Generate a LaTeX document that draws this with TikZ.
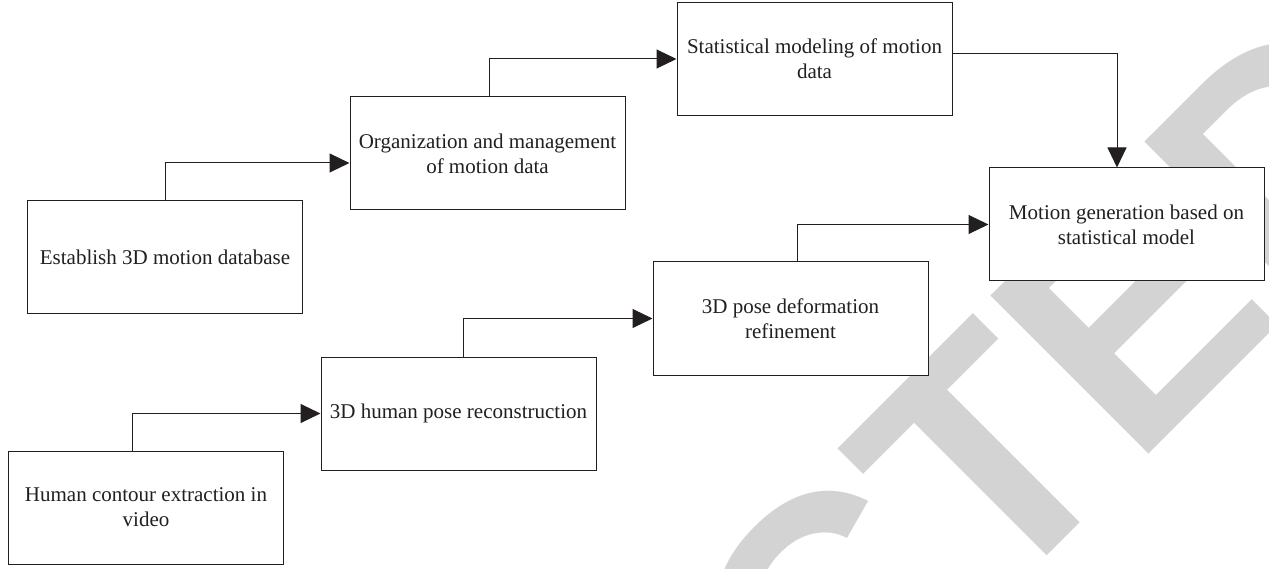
\documentclass[tikz,border=0pt]{standalone}
\usepackage{fontspec}
\setmainfont{Liberation Serif}
\newfontfamily\wmfont{Liberation Sans}
\usetikzlibrary{arrows.meta,calc}
\definecolor{ink}{HTML}{231F20}
\definecolor{wm}{HTML}{D3D3D3}
\begin{document}
\begin{tikzpicture}[x=1pt,y=-1pt,
  stepbox/.style={draw=ink,line width=1pt,fill=white,minimum width=275pt,
    minimum height=113pt,inner sep=2pt,align=center,text=ink,
    font=\fontsize{21}{25}\selectfont},
  flow/.style={draw=ink,line width=1pt,-{Triangle[length=20pt,width=19pt]}}]
\useasboundingbox (0,0) rectangle (1269,569);
% faint stamp lettering behind the chart
\begin{scope}
  \clip (0,0) rectangle (1269,569);
  \node[rotate=45,anchor=base west,inner sep=0pt,text=wm,
    font=\wmfont\bfseries\fontsize{325}{325}\selectfont] (stamp) at (36,1567) {RETRACTED};
\end{scope}
% process steps
\node[stepbox] (est)  at (165,257)    {Establish 3D motion database};
\node[stepbox] (org)  at (487.5,153.5){Organization and management\\of motion data};
\node[stepbox] (stat) at (814.5,59)   {Statistical modeling of motion\\data};
\node[stepbox] (mot)  at (1126.5,224.5){Motion generation based on\\statistical model};
\node[stepbox] (pose) at (790.5,318.5){3D pose deformation\\refinement};
\node[stepbox] (hpr)  at (458.5,413.5){3D human pose reconstruction};
\node[stepbox] (hce)  at (146,507.5)  {Human contour extraction in\\video};
% connectors
\draw[flow] (est.north) |- ($(org.west)+(0,9.5)$);
\draw[flow] ($(org.north)+(1.5,0)$) |- (stat.west);
\draw[flow] ($(stat.east)+(0,-5)$) -| ($(mot.north)+(-9.5,0)$);
\draw[flow] ($(pose.north)+(6.5,0)$) |- (mot.west);
\draw[flow] ($(hpr.north)+(4.5,0)$) |- (pose.west);
\draw[flow] ($(hce.north)+(-14,0)$) |- (hpr.west);
\end{tikzpicture}
\end{document}
